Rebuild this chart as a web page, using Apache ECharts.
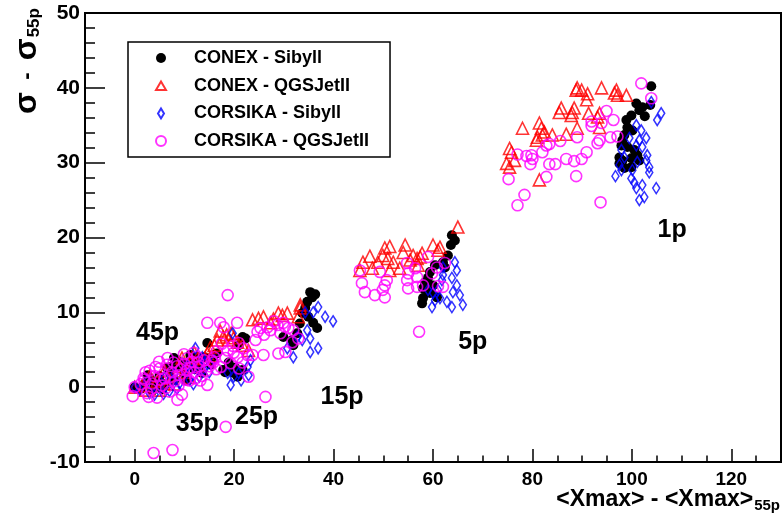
<!DOCTYPE html>
<html>
<head>
<meta charset="utf-8">
<script src="https://cdn.jsdelivr.net/npm/echarts@6/dist/echarts.min.js"></script>
<style>
  html, body { margin: 0; padding: 0; background: #fff; }
  #chart { width: 783px; height: 523px; }
</style>
</head>
<body>
<div id="chart"></div>
<script>
// Shower fluctuation width vs. mean Xmax, both relative to the 55p (iron) reference.
// Each entry is [<Xmax> - <Xmax>_55p, sigma - sigma_55p].

const conexSibyll = [
  [0, 0],
  [2, 0.5], [3, 1.2], [4, 0.3], [5, 1.5], [5.5, -0.3], [6.5, 2.6], [7, 2.0], [7.2, 2.7], [8, 1.0],
  [9, 2.8], [10, 1.8], [11, 3.2], [12, 2.4], [13, 3.0], [3.5, -0.5], [11.2, 4.3], [12.8, 4.0],
  [14, 4.0], [8.5, 3.6], [1.2, -0.2], [2.6, 1.6], [4.8, 0.9], [6.1, 0.4], [9.6, 3.3], [10.4, 0.9],
  [13.5, 1.9], [15.3, 3.0], [15.8, 4.1], [7.9, 3.9],
  [14.6, 5.9], [22.3, 6.5], [21.7, 6.7], [20.9, 5.6], [18.9, 3.3], [19.9, 1.9], [20.7, 1.4],
  [17.8, 2.3], [21.7, 2.3], [19, 2.8], [16.5, 4.5], [18.2, 2.0], [20.2, 2.6],
  [35.3, 12.7], [35.7, 12.0], [34.7, 11.4], [34.3, 10.6], [33.7, 9.9], [35.9, 8.6], [36.7, 7.9],
  [31.7, 6.3], [31.9, 5.6], [29.9, 6.7], [32.7, 7.2], [34.9, 9.4], [36.3, 12.4], [33.2, 8.5],
  [63.8, 20.3], [64.4, 19.6], [63.6, 19.0], [63.0, 17.6], [62.0, 16.7], [60.4, 16.3], [59.4, 15.4],
  [59.0, 14.6], [58.4, 14.0], [58.0, 13.2], [58.8, 13.0], [58.0, 11.9], [57.8, 11.2], [60.0, 13.6],
  [60.8, 12.0], [59.4, 12.6], [62.4, 16.0],
  [103.9, 40.2], [100.9, 37.9], [101.5, 37.0], [102.1, 37.4], [99.9, 36.3], [98.9, 35.7], [99.1, 34.7],
  [100.1, 34.3], [98.5, 33.7], [98.1, 33.0], [99.1, 32.1], [100.5, 31.7], [101.1, 31.0], [99.9, 30.6],
  [98.1, 30.3], [97.5, 29.9], [98.5, 29.3], [99.9, 29.4], [101.5, 30.3], [97.5, 30.7], [97.9, 32.3],
  [103.7, 37.7], [102.6, 36.2]
];

const conexQgsjet = [
  [0, 0],
  [1.5, 0.2], [3, 1.5], [4.5, 0.8], [6, 2.2], [7.5, 1.2], [9, 2.8], [10, 2.0], [11.5, 3.5], [13, 2.8],
  [5, -0.4], [8, 0.4], [12, 4.6], [14, 3.8], [2.2, -0.4], [6.8, 0.5], [9.5, 3.9], [10.8, 1.3], [12.6, 3.9],
  [15.5, 4.2],
  [15.2, 5.3], [16.6, 6.3], [17.8, 6.7], [18.9, 6.3], [20.7, 6.0], [21.7, 5.6], [22.9, 4.9], [14.6, 4.5],
  [17.2, 7.5], [18.5, 7.0], [19.4, 7.2], [16.0, 5.6], [19.9, 6.6],
  [23.7, 9.0], [24.9, 9.2], [25.9, 9.4], [28.9, 9.9], [30.7, 9.9], [29.7, 9.6], [33.3, 10.6], [32.9, 9.4],
  [27.9, 9.1], [27.3, 8.6], [33.3, 11.0],
  [65.0, 21.4], [60.0, 19.0], [61.4, 18.7], [61.0, 18.3], [51.3, 18.8], [54.4, 19.0], [54.0, 18.0],
  [49.9, 17.6], [50.9, 17.2], [52.0, 16.7], [51.3, 15.6], [53.3, 15.9], [56.0, 17.6], [57.4, 17.4],
  [57.8, 17.9], [55.4, 17.0], [56.8, 17.2], [57.0, 16.3], [45.9, 16.7], [47.3, 17.5], [48.9, 16.7],
  [50.3, 18.6], [45.3, 15.6], [47.8, 15.9],
  [78.0, 34.6], [81.4, 35.3], [81.8, 34.6], [82.4, 34.1], [82.0, 33.7], [84.0, 33.7], [80.8, 33.0],
  [86.8, 33.8], [89.0, 34.6], [85.4, 36.7], [85.8, 37.3], [88.0, 36.7], [88.4, 37.3], [87.8, 36.3],
  [89.0, 40.0], [88.8, 39.7], [89.9, 39.7], [91.1, 39.2], [90.9, 38.4], [93.9, 40.0], [96.5, 39.3],
  [96.9, 39.7], [97.1, 39.0], [98.9, 39.0], [91.3, 36.6], [93.5, 36.6], [93.1, 36.1], [93.5, 34.7],
  [75.4, 31.9], [75.8, 31.4], [76.4, 30.3], [74.8, 29.9], [75.4, 29.4], [81.4, 27.7], [81.0, 33.4]
];

const corsikaSibyll = [
  [0, 0],
  [1, -0.3], [2.5, 0.8], [4, -1.0], [5, 0.2], [6, 1.3], [7, -0.5], [8, 1.8], [9, 0.5], [10, 2.2],
  [11, 1.0], [12, 2.6], [13, 1.4], [14, 3.3], [15, 2.0], [16, 3.6], [12.2, 5.2], [8.5, -0.2], [3, -0.8],
  [5.8, -0.9], [7.7, 0.9], [10.6, 2.9], [13.8, 2.4], [11.8, 0.4],
  [19.3, 0.3], [19.9, 1.4], [22.9, 1.6], [22.7, 2.7], [23.3, 3.6], [20.9, 1.9], [18.7, 1.9], [19.7, 7.2],
  [13.6, 4.0], [21.4, 0.9],
  [36.9, 10.7], [38.3, 9.4], [39.9, 8.8], [35.9, 10.0], [34.3, 10.0], [34.7, 7.6], [35.3, 6.5],
  [36.9, 5.2], [35.3, 4.7], [33.7, 6.3], [31.9, 4.0], [30.7, 5.2], [32.7, 6.7],
  [64.4, 16.7], [64.8, 15.6], [63.8, 14.6], [62.0, 16.0], [62.0, 15.0], [61.8, 14.3], [64.8, 13.6],
  [65.4, 12.3], [64.0, 12.7], [66.0, 11.0], [63.8, 10.7], [59.8, 10.7], [60.4, 11.6], [61.4, 11.9],
  [59.0, 13.0], [61.0, 13.0], [62.8, 11.4], [60.0, 12.6],
  [103.9, 38.1], [105.9, 36.6], [105.1, 35.7], [100.9, 35.0], [101.9, 34.3], [99.5, 33.3], [102.9, 33.3],
  [101.5, 33.0], [100.9, 32.3], [102.1, 32.1], [97.9, 31.7], [98.5, 30.7], [103.1, 31.0], [102.9, 30.3],
  [101.1, 30.1], [97.5, 29.7], [97.9, 29.0], [100.1, 29.0], [103.5, 29.4], [103.5, 28.7], [96.7, 28.2],
  [99.9, 27.9], [100.5, 27.3], [102.1, 27.0], [100.9, 26.6], [104.9, 26.6], [101.5, 25.0], [102.5, 25.4]
];

const corsikaQgsjet = [
  [0, 0],
  [-0.4, -1.2], [1.8, 1.2], [2.8, -1.3], [8.6, -1.7], [14.6, 0.3], [12.2, 1.2], [6.6, 3.9], [2, 1.0],
  [2.5, -0.8], [3, 2.2], [3.5, 0.5], [4, 1.5], [4.5, -1.4], [5, 2.5], [5.5, 0.2], [6, 1.2], [6.5, 3.0],
  [7, -0.6], [7.5, 2.0], [8, 0.8], [8.5, 2.8], [9, 1.6], [9.5, -1.0], [10, 3.1], [10.5, 2.2], [11, 0.9],
  [11.5, 3.4], [12, 2.0], [12.5, 4.1], [13, 2.8], [13.5, 1.5], [14, 3.6], [15, 2.8], [16, 4.0],
  [10.6, 3.9], [3.8, -8.8], [7.6, -8.4],
  [1.2, 0.4], [3.3, -0.3], [4.2, 2.7], [5.2, 1.0], [6.3, -0.1], [7.2, 1.4], [7.8, 3.3], [8.8, 0.2],
  [9.3, 2.4], [10.2, 1.0], [11.2, 2.6], [12.8, 3.3], [13.2, 0.9], [14.4, 2.2], [15.5, 3.5], [16.4, 2.4],
  [4.9, 3.4], [9.9, 4.4], [11.9, 4.6], [2.2, 2.0],
  [20.9, 5.9], [21.9, 5.2], [18.7, 4.9], [18.3, 3.9], [19.3, 3.2], [21.7, 3.3], [22.7, 4.3], [23.7, 4.3],
  [22.9, 1.4], [20.7, 4.0], [17.3, 2.7], [15.8, 3.3], [18.7, 12.3], [14.6, 8.6], [17.2, 8.6], [17.9, 8.0],
  [20.6, 8.6], [18.3, -5.3], [16.5, 4.8], [19.8, 5.5], [17.5, 5.8], [19.9, 4.6], [21.0, 2.5],
  [25.3, 7.9], [26.7, 8.0], [24.7, 7.4], [28.7, 8.3], [29.9, 8.6], [30.9, 7.9], [29.3, 7.2], [27.3, 7.6],
  [31.9, 7.6], [32.9, 6.5], [28.9, 4.5], [30.3, 4.7], [25.9, 4.3], [24.3, 6.3], [31.7, 6.0], [26.3, -1.3],
  [28.0, 8.8], [30.2, 8.1], [26.0, 7.0],
  [59.0, 17.4], [60.8, 16.0], [62.4, 16.6], [59.8, 15.2], [54.8, 16.6], [56.4, 15.9], [55.0, 15.2],
  [56.8, 14.7], [54.8, 14.3], [55.0, 13.2], [56.8, 13.4], [58.0, 13.6], [61.0, 13.5], [62.0, 13.4],
  [49.3, 15.4], [50.7, 14.3], [50.3, 13.6], [50.3, 12.0], [49.9, 13.0], [57.2, 7.4], [45.7, 13.9],
  [46.3, 12.7], [45.3, 15.6], [48.3, 12.3],
  [101.9, 40.6], [103.9, 38.6], [94.9, 36.9], [96.3, 35.7], [91.9, 35.5], [91.9, 34.9], [93.9, 35.3],
  [97.1, 33.5], [95.7, 33.4], [93.5, 33.0], [93.1, 32.6], [89.0, 33.4], [85.6, 32.9], [83.4, 32.5],
  [82.8, 32.3], [82.0, 31.4], [77.0, 31.1], [78.8, 30.9], [79.8, 31.0], [80.0, 30.5], [79.6, 29.8],
  [83.4, 29.8], [84.6, 29.8], [86.8, 30.5], [88.4, 30.2], [89.9, 30.5], [90.9, 31.4], [88.8, 28.2],
  [82.8, 28.1], [75.2, 27.8], [78.4, 25.7], [77.0, 24.3], [93.7, 24.7]
];

// Primary-mass group labels and where they sit in data coordinates
const groupNames = ['45p', '35p', '25p', '15p', '5p', '1p'];
const groupPos = [[4.6, 7.2], [12.6, -4.9], [24.5, -4.0], [41.7, -1.3], [68.0, 6.0], [108.1, 21.0]];

// Axis ticks
const xMajor = [0, 20, 40, 60, 80, 100, 120];
const xMinor = [-5, 5, 10, 15, 25, 30, 35, 45, 50, 55, 65, 70, 75, 85, 90, 95, 105, 110, 115, 125];
const yMajor = [-10, 0, 10, 20, 30, 40, 50];
const yMinor = [-8, -6, -4, -2, 2, 4, 6, 8, 12, 14, 16, 18, 22, 24, 26, 28, 32, 34, 36, 38, 42, 44, 46, 48];

const FONT = 'Liberation Sans, Arial, Helvetica, sans-serif';

const chart = echarts.init(document.getElementById('chart'));

function openStyle(color) {
  return { color: 'rgba(0,0,0,0)', borderColor: color, borderWidth: 1.6 };
}

function majorAxis(type, min, max, ticks, tickLen, fontSize, margin) {
  return {
    type: 'value', min: min, max: max,
    position: type === 'x' ? 'bottom' : 'left',
    axisLine: { show: true, onZero: false, lineStyle: { color: '#000', width: 2 } },
    axisTick: { show: true, inside: true, length: tickLen, customValues: ticks,
                lineStyle: { color: '#000', width: 1.5 } },
    axisLabel: { show: true, customValues: ticks, color: '#000', fontFamily: FONT,
                 fontWeight: 'bold', fontSize: fontSize, margin: margin },
    splitLine: { show: false }
  };
}

function minorAxis(type, min, max, ticks, tickLen) {
  return {
    type: 'value', min: min, max: max,
    position: type === 'x' ? 'bottom' : 'left',
    axisLine: { show: false, onZero: false },
    axisTick: { show: true, inside: true, length: tickLen, customValues: ticks,
                lineStyle: { color: '#000', width: 1.5 } },
    axisLabel: { show: false },
    splitLine: { show: false }
  };
}

const option = {
  backgroundColor: '#fff',
  animation: false,
  grid: {
    left: 85, right: 2, top: 13, bottom: 61,
    show: true, borderColor: '#000', borderWidth: 2, backgroundColor: '#fff',
    outerBoundsMode: 'none'
  },
  xAxis: [
    majorAxis('x', -10, 130, xMajor, 13, 19, 8),
    minorAxis('x', -10, 130, xMinor, 6.5)
  ],
  yAxis: [
    majorAxis('y', -10, 50, yMajor, 20, 21, 5),
    minorAxis('y', -10, 50, yMinor, 10)
  ],
  legend: {
    orient: 'vertical',
    left: 128, top: 42,
    padding: [7, 21, 7, 27],
    itemWidth: 10, itemHeight: 10, itemGap: 9.7,
    borderColor: '#000', borderWidth: 1.5, borderRadius: 0,
    backgroundColor: '#fff',
    textStyle: { color: '#000', fontFamily: FONT, fontWeight: 'bold', fontSize: 18,
                 padding: [0, 0, 0, 23] },
    data: [
      { name: 'CONEX - Sibyll', icon: 'path://M0,-4A4,4,0,1,1,0,4A4,4,0,1,1,0,-4Z' },
      { name: 'CONEX - QGSJetII', icon: 'path://M0,-5L5.5,4.5L-5.5,4.5Z' },
      { name: 'CORSIKA - Sibyll', icon: 'path://M0,-6L3.6,0L0,6L-3.6,0Z' },
      { name: 'CORSIKA - QGSJetII', icon: 'circle' }
    ]
  },
  series: [
    {
      name: 'CONEX - Sibyll', type: 'scatter', data: conexSibyll,
      symbol: 'circle', symbolSize: 10,
      itemStyle: { color: '#000', opacity: 1 }
    },
    {
      name: 'CONEX - QGSJetII', type: 'scatter', data: conexQgsjet,
      symbol: 'triangle', symbolSize: 12,
      itemStyle: openStyle('#ff0000')
    },
    {
      name: 'CORSIKA - Sibyll', type: 'scatter', data: corsikaSibyll,
      symbol: 'diamond', symbolSize: [7, 11],
      itemStyle: openStyle('#0000ff')
    },
    {
      name: 'CORSIKA - QGSJetII', type: 'scatter', data: corsikaQgsjet,
      symbol: 'circle', symbolSize: 11,
      itemStyle: openStyle('#ff00ff')
    },
    {
      name: 'groups', type: 'scatter', silent: true,
      data: groupNames.map((n, i) => ({ name: n, value: groupPos[i] })),
      symbolSize: 0, itemStyle: { color: '#000', opacity: 1 },
      label: { show: true, position: 'inside', formatter: '{b}', color: '#000', opacity: 1,
               textBorderWidth: 0, fontFamily: FONT, fontWeight: 'bold', fontSize: 25 },
      z: 5
    }
  ],
  graphic: [
    {
      type: 'text', x: 27, y: 61, rotation: Math.PI / 2,
      style: {
        text: '{s|σ}{m|  -  }{s|σ}{sub|55p}',
        align: 'center', verticalAlign: 'middle',
        fill: '#000',
        rich: {
          s: { fontFamily: FONT, fontWeight: 'bold', fontSize: 32, fill: '#000' },
          m: { fontFamily: FONT, fontWeight: 'bold', fontSize: 22, fill: '#000' },
          sub: { fontFamily: FONT, fontWeight: 'bold', fontSize: 17, fill: '#000', padding: [14, 0, 0, 1] }
        }
      }
    },
    {
      type: 'text', x: 780, y: 500,
      style: {
        text: '{t|<Xmax> - <Xmax>}{sub|55p}',
        align: 'right', verticalAlign: 'middle',
        fill: '#000',
        rich: {
          t: { fontFamily: FONT, fontWeight: 'bold', fontSize: 23, fill: '#000' },
          sub: { fontFamily: FONT, fontWeight: 'bold', fontSize: 15, fill: '#000', padding: [12, 0, 0, 1] }
        }
      }
    }
  ]
};

chart.setOption(option);
</script>
</body>
</html>
